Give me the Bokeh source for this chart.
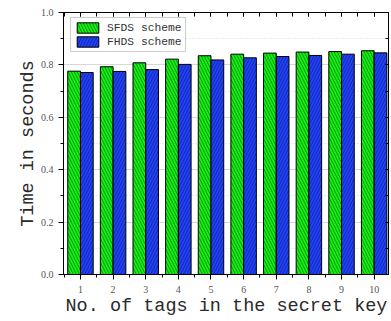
from bokeh.plotting import figure
from bokeh.models import (LinearAxis, SingleIntervalTicker, PrintfTickFormatter,
                          Range1d, ColumnDataSource, Legend, LegendItem)
from bokeh.transform import dodge
from bokeh.embed import file_html
from bokeh.resources import INLINE

tags = [1, 2, 3, 4, 5, 6, 7, 8, 9, 10]
sfds = [0.776, 0.793, 0.808, 0.822, 0.835, 0.841, 0.845, 0.849, 0.851, 0.854]
fhds = [0.771, 0.775, 0.782, 0.802, 0.819, 0.827, 0.832, 0.836, 0.841, 0.846]
series_names = ["SFDS scheme", "FHDS scheme"]
y_label = "Time in seconds"
x_label = "No. of tags in the secret key"

MONO = "Liberation Mono"

p = figure(frame_width=326, frame_height=262, output_backend="svg", toolbar_location=None,
           x_range=Range1d(0.48, 10.47), y_range=Range1d(0, 1.0),
           min_border_left=63, min_border_right=0, min_border_top=12, min_border_bottom=47)
p.background_fill_color = "white"
p.border_fill_color = "white"
p.outline_line_color = "black"
p.outline_line_width = 1

src = ColumnDataSource(dict(x=tags, sfds=sfds, fhds=fhds))
w = 0.39
r1 = p.vbar(x=dodge("x", -w / 2, range=p.x_range), top="sfds", width=w, source=src,
            fill_color="#14ec14", line_color="black", line_width=1,
            hatch_pattern="left_diagonal_line", hatch_color="#0a5a0a",
            hatch_alpha=0.7, hatch_scale=6, hatch_weight=0.8)
r2 = p.vbar(x=dodge("x", w / 2, range=p.x_range), top="fhds", width=w, source=src,
            fill_color="#2040f8", line_color="black", line_width=1,
            hatch_pattern="right_diagonal_line", hatch_color="#0a1a70",
            hatch_alpha=0.7, hatch_scale=6, hatch_weight=0.8)

# axes
p.xaxis.ticker = SingleIntervalTicker(interval=1, num_minor_ticks=2)
p.yaxis.ticker = SingleIntervalTicker(interval=0.2, num_minor_ticks=2)
p.yaxis.formatter = PrintfTickFormatter(format="%.1f")
for ax in (p.xaxis[0], p.yaxis[0]):
    ax.axis_line_color = "black"
    ax.major_tick_line_color = "black"
    ax.minor_tick_line_color = "black"
    ax.major_tick_out = 5
    ax.major_tick_in = 0
    ax.minor_tick_out = 3
    ax.minor_tick_in = 0
    ax.major_label_text_font = "Liberation Serif"
    ax.major_label_text_font_size = "10px"
    ax.major_label_text_color = "#555555"
    ax.axis_label_text_font = MONO
    ax.axis_label_text_font_style = "normal"
    ax.axis_label_text_color = "#2a2a2a"
    ax.axis_label_text_font_size = "18.5px"
p.yaxis.axis_label = y_label
p.xaxis.axis_label = x_label
p.yaxis.axis_label_standoff = -1
p.xaxis.axis_label_standoff = 0
p.yaxis.major_label_standoff = 5
p.xaxis.major_label_standoff = 6

top = LinearAxis(ticker=SingleIntervalTicker(interval=1, num_minor_ticks=2),
                 major_label_text_font_size="0px", major_tick_in=4, major_tick_out=0,
                 minor_tick_in=4, minor_tick_out=0, axis_line_color="black",
                 major_label_standoff=0,
                 major_tick_line_color="black", minor_tick_line_color="black")
top.major_label_text_alpha = 0
p.add_layout(top, "above")
right = LinearAxis(ticker=SingleIntervalTicker(interval=0.2, num_minor_ticks=2),
                   major_label_text_font_size="0px", major_tick_in=4, major_tick_out=0,
                   minor_tick_in=4, minor_tick_out=0, axis_line_color="black",
                   major_label_standoff=0,
                   major_tick_line_color="black", minor_tick_line_color="black")
right.major_label_text_alpha = 0
p.add_layout(right, "right")

p.xgrid.visible = False
p.ygrid.ticker = SingleIntervalTicker(interval=0.2, num_minor_ticks=2)
p.ygrid.grid_line_color = "#d8d8d8"
p.ygrid.minor_grid_line_color = "#d8d8d8"
p.ygrid.minor_grid_line_dash = "1 2"

legend = Legend(items=[LegendItem(label=series_names[0], renderers=[r1]),
                       LegendItem(label=series_names[1], renderers=[r2])],
                location=(7, 222))
legend.margin = 0
legend.padding = 3
legend.spacing = 1
legend.glyph_width = 27
legend.glyph_height = 13
legend.label_height = 13
legend.label_standoff = 6
legend.label_text_font = MONO
legend.label_text_font_size = "11.3px"
legend.label_text_color = "#333333"
legend.border_line_color = "#999999"
legend.background_fill_alpha = 1
p.add_layout(legend, "center")

open("out.html", "w").write(file_html(p, INLINE))
